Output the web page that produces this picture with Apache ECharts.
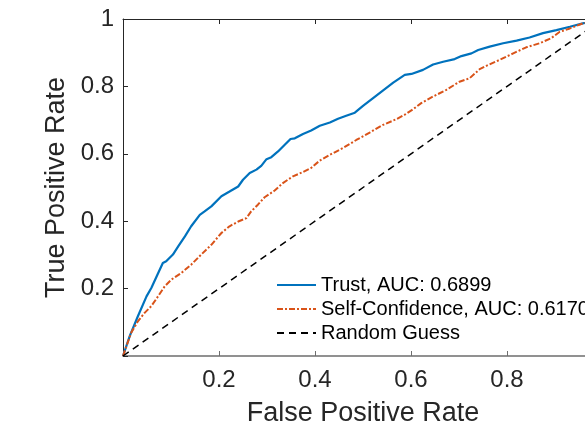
<!DOCTYPE html>
<html>
<head>
<meta charset="utf-8" />
<title>ROC</title>
<script src="https://cdn.jsdelivr.net/npm/echarts@6.0.0/dist/echarts.min.js"></script>
<style>
html,
body {
  margin: 0;
  padding: 0;
  background: #fff;
}
#chart {
  width: 585px;
  height: 425px;
}
</style>
</head>
<body>
<div id="chart"></div>
<script>
// 读图得到的ROC数据
var trustFpr = [0, 0.014, 0.031, 0.049, 0.059, 0.07, 0.083, 0.09, 0.104, 0.115, 0.129, 0.142, 0.16, 0.17, 0.184, 0.205, 0.222, 0.24, 0.25, 0.264, 0.278, 0.288, 0.299, 0.309, 0.323, 0.337, 0.349, 0.358, 0.375, 0.392, 0.41, 0.431, 0.448, 0.465, 0.483, 0.5, 0.521, 0.542, 0.563, 0.587, 0.601, 0.625, 0.646, 0.667, 0.691, 0.705, 0.726, 0.74, 0.764, 0.792, 0.82, 0.847, 0.875, 0.903, 0.931, 0.958, 1];
var trustTpr = [0, 0.059, 0.118, 0.177, 0.202, 0.236, 0.276, 0.281, 0.301, 0.325, 0.355, 0.385, 0.419, 0.429, 0.444, 0.474, 0.488, 0.503, 0.523, 0.543, 0.553, 0.564, 0.584, 0.59, 0.607, 0.627, 0.644, 0.646, 0.659, 0.669, 0.683, 0.693, 0.704, 0.713, 0.722, 0.742, 0.765, 0.788, 0.811, 0.834, 0.837, 0.849, 0.865, 0.873, 0.881, 0.89, 0.898, 0.908, 0.918, 0.928, 0.936, 0.945, 0.958, 0.967, 0.977, 0.987, 1];
var confFpr = [0, 0.017, 0.031, 0.045, 0.059, 0.073, 0.087, 0.101, 0.122, 0.142, 0.163, 0.184, 0.205, 0.222, 0.24, 0.257, 0.267, 0.281, 0.295, 0.316, 0.333, 0.354, 0.375, 0.392, 0.41, 0.431, 0.458, 0.486, 0.514, 0.542, 0.57, 0.587, 0.604, 0.622, 0.646, 0.674, 0.701, 0.722, 0.743, 0.757, 0.785, 0.813, 0.84, 0.868, 0.892, 0.91, 0.931, 0.958, 1];
var confTpr = [0, 0.069, 0.103, 0.128, 0.148, 0.177, 0.207, 0.227, 0.247, 0.271, 0.301, 0.33, 0.365, 0.385, 0.399, 0.409, 0.429, 0.449, 0.471, 0.491, 0.513, 0.533, 0.546, 0.558, 0.58, 0.597, 0.617, 0.641, 0.663, 0.686, 0.703, 0.716, 0.732, 0.751, 0.77, 0.79, 0.814, 0.824, 0.851, 0.861, 0.879, 0.898, 0.916, 0.928, 0.943, 0.962, 0.972, 0.987, 1];
var guessFpr = [0, 1];
var guessTpr = [0, 1];
var seriesNames = ["Trust, AUC: 0.6899", "Self-Confidence, AUC: 0.6170", "Random Guess"];

var font = "Liberation Sans, Arial, sans-serif";
var textColor = "#262626";

function pairs(xs, ys) {
  return xs.map(function (x, i) {
    return [x, ys[i]];
  });
}

function tickLabel(v) {
  if (v === 0) return "";
  return String(+v.toFixed(1));
}

var option = {
  animation: false,
  backgroundColor: "#fff",
  textStyle: { fontFamily: font, color: textColor },
  // 图的右边被裁掉了，x=1 落在画布外
  grid: { left: 123, top: 19, width: 480, height: 337, outerBoundsMode: "none" },
  legend: {
    data: seriesNames,
    orient: "vertical",
    left: 276,
    top: 275,
    padding: 0,
    itemGap: 4,
    itemWidth: 39,
    itemHeight: 14,
    itemStyle: { opacity: 0 },
    textStyle: { fontFamily: font, fontSize: 20, color: "#000", lineHeight: 20 },
  },
  xAxis: [
    {
      type: "value",
      min: 0,
      max: 1,
      interval: 0.2,
      name: "False Positive Rate",
      nameLocation: "middle",
      nameGap: 58,
      nameTextStyle: { fontSize: 27, color: textColor, verticalAlign: "middle" },
      axisLine: { lineStyle: { color: "#6e6e6e", width: 1.5 } },
      axisTick: { inside: true, length: 5, lineStyle: { color: "#6e6e6e" } },
      axisLabel: { fontSize: 24, color: textColor, margin: 12, formatter: tickLabel },
      splitLine: { show: false },
    },
    {
      type: "value",
      position: "top",
      min: 0,
      max: 1,
      interval: 0.2,
      axisLine: { show: true, onZero: false, lineStyle: { color: "#262626", width: 1 } },
      axisTick: { inside: true, length: 5, lineStyle: { color: "#262626" } },
      axisLabel: { show: false },
      splitLine: { show: false },
    },
  ],
  yAxis: {
    type: "value",
    min: 0,
    max: 1,
    interval: 0.2,
    name: "True Positive Rate",
    nameLocation: "middle",
    nameGap: 66,
    nameTextStyle: { fontSize: 27, color: textColor, verticalAlign: "middle" },
    axisLine: { show: true, lineStyle: { color: "#262626", width: 1 } },
    axisTick: { show: true, inside: true, length: 5, lineStyle: { color: "#262626" } },
    axisLabel: { fontSize: 24, color: textColor, margin: 9, formatter: tickLabel },
    splitLine: { show: false },
  },
  series: [
    {
      name: seriesNames[0],
      type: "line",
      data: pairs(trustFpr, trustTpr),
      symbol: "none",
      lineStyle: { color: "#0072BD", width: 2.2 },
      itemStyle: { color: "#0072BD" },
    },
    {
      name: seriesNames[1],
      type: "line",
      data: pairs(confFpr, confTpr),
      symbol: "none",
      lineStyle: { color: "#D95319", width: 2, type: [6, 2, 2, 2] },
      itemStyle: { color: "#D95319" },
    },
    {
      name: seriesNames[2],
      type: "line",
      data: pairs(guessFpr, guessTpr),
      symbol: "none",
      lineStyle: { color: "#000", width: 1.5, type: [7, 5] },
      itemStyle: { color: "#000" },
    },
  ],
};

// 基于准备好的dom，初始化echarts实例
var myChart = echarts.init(document.getElementById("chart"));
myChart.setOption(option);
</script>
</body>
</html>
